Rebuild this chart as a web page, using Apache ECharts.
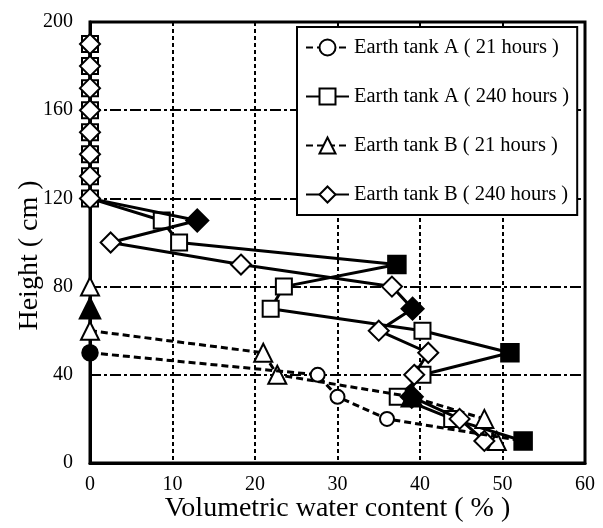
<!DOCTYPE html>
<html>
<head>
<meta charset="utf-8">
<script src="https://cdn.jsdelivr.net/npm/echarts@6/dist/echarts.min.js"></script>
<style>
  html, body { margin: 0; padding: 0; background: #fff; }
  #chart { width: 603px; height: 528px; }
</style>
</head>
<body>
<div id="chart"></div>
<script>
// heights (cm)
const heightsA21 = [50, 40, 30, 20, 10]
const heightsB21 = [80, 70, 60, 50, 40, 30, 20, 10]
const heights240 = [190, 180, 170, 160, 150, 140, 130, 120, 110, 100, 90, 80, 70, 60, 50, 40, 30, 20, 10]

// volumetric water content (%)
const waterA21 = [0, 27.6, 30, 36, 52.5]
const waterA240 = [0, 0, 0, 0, 0, 0, 0, 0, 8.7, 10.8, 37.2, 23.5, 21.9, 40.3, 50.9, 40.3, 37.3, 43.9, 52.5]
const waterB21 = [0, 0, 0, 21, 22.7, 39, 47.8, 49.3]
const waterB240 = [0, 0, 0, 0, 0, 0, 0, 0, 13, 2.5, 18.3, 36.6, 39.1, 35, 41, 39.3, 39, 44.8, 47.8]

const seriesNames = ['Earth tank A ( 21 hours )', 'Earth tank A ( 240 hours )', 'Earth tank B ( 21 hours )', 'Earth tank B ( 240 hours )']
const xTicks = [0, 10, 20, 30, 40, 50, 60]
const yTicks = [0, 40, 80, 120, 160, 200]

const serif = 'Liberation Serif'

// points drawn solid black in the figure
const filledA21 = [0, 4]
const filledA240 = [10, 14, 18]
const filledB21 = [1, 5]
const filledB240 = [8, 12, 16]

const buildData = (xs, ys, filled, filledSymbol) =>
    xs.map((x, i) => {
        const item = { value: [x, ys[i]] }
        if (filled.includes(i)) {
            item.symbol = filledSymbol
            item.itemStyle = { color: '#000', borderColor: '#000' }
        }
        return item
    })

const makeSeries = (name, data, symbol, size, dashed, z) => ({
    name,
    type: 'line',
    z,
    data,
    symbol,
    symbolSize: size,
    showAllSymbol: true,
    lineStyle: { color: '#000', width: 3, type: dashed ? [7, 4] : 'solid' },
    itemStyle: { color: '#000', borderColor: '#000', borderWidth: 3.5 },
    emphasis: { disabled: true },
    animation: false
})

const chart = echarts.init(document.getElementById('chart'))

const option = {
    animation: false,
    backgroundColor: '#fff',
    grid: {
        left: 90,
        right: 18,
        top: 22,
        bottom: 65,
        outerBoundsMode: 'none',
        containLabel: false,
        show: true,
        borderColor: '#000',
        borderWidth: 3,
        backgroundColor: 'transparent'
    },
    legend: {
        orient: 'vertical',
        left: 297,
        top: 27,
        data: seriesNames,
        itemWidth: 43,
        itemHeight: 20,
        itemGap: 28,
        padding: [10, 8, 10, 8],
        backgroundColor: '#fff',
        borderColor: '#000',
        borderWidth: 2,
        borderRadius: 0,
        itemStyle: { borderWidth: 3 },
        textStyle: { fontFamily: serif, fontSize: 20.5, color: '#000' }
    },
    xAxis: {
        type: 'value',
        min: xTicks[0],
        max: xTicks[xTicks.length - 1],
        interval: 10,
        name: 'Volumetric water content ( % )',
        nameLocation: 'middle',
        nameMoveOverlap: false,
        nameGap: 32,
        nameTextStyle: { fontFamily: serif, fontSize: 28, color: '#000' },
        axisLine: { show: true, lineStyle: { color: '#000', width: 3 } },
        axisTick: { show: false },
        axisLabel: { fontFamily: serif, fontSize: 20, color: '#000', margin: 12 },
        splitLine: { show: true, lineStyle: { color: '#000', width: 2, type: [4, 3] } }
    },
    yAxis: {
        type: 'value',
        min: yTicks[0],
        max: yTicks[yTicks.length - 1],
        interval: 40,
        name: 'Height ( cm )',
        nameLocation: 'middle',
        nameMoveOverlap: false,
        nameGap: 46,
        nameTextStyle: { fontFamily: serif, fontSize: 28, color: '#000', padding: [0, 26, 0, 0] },
        axisLine: { show: true, lineStyle: { color: '#000', width: 3 } },
        axisTick: { show: false },
        axisLabel: { fontFamily: serif, fontSize: 20, color: '#000', margin: 17 },
        splitLine: { show: true, lineStyle: { color: '#000', width: 2, type: [11, 3, 3, 3] } }
    },
    series: [
        makeSeries(seriesNames[0], buildData(waterA21, heightsA21, filledA21, 'circle'), 'emptyCircle', 14, true, 6),
        makeSeries(seriesNames[1], buildData(waterA240, heights240, filledA240, 'rect'), 'emptyRect', 16, false, 3),
        makeSeries(seriesNames[2], buildData(waterB21, heightsB21, filledB21, 'triangle'), 'emptyTriangle', 18, true, 4),
        makeSeries(seriesNames[3], buildData(waterB240, heights240, filledB240, 'diamond'), 'emptyDiamond', 20, false, 5)
    ]
}
chart.setOption(option)
</script>
</body>
</html>
